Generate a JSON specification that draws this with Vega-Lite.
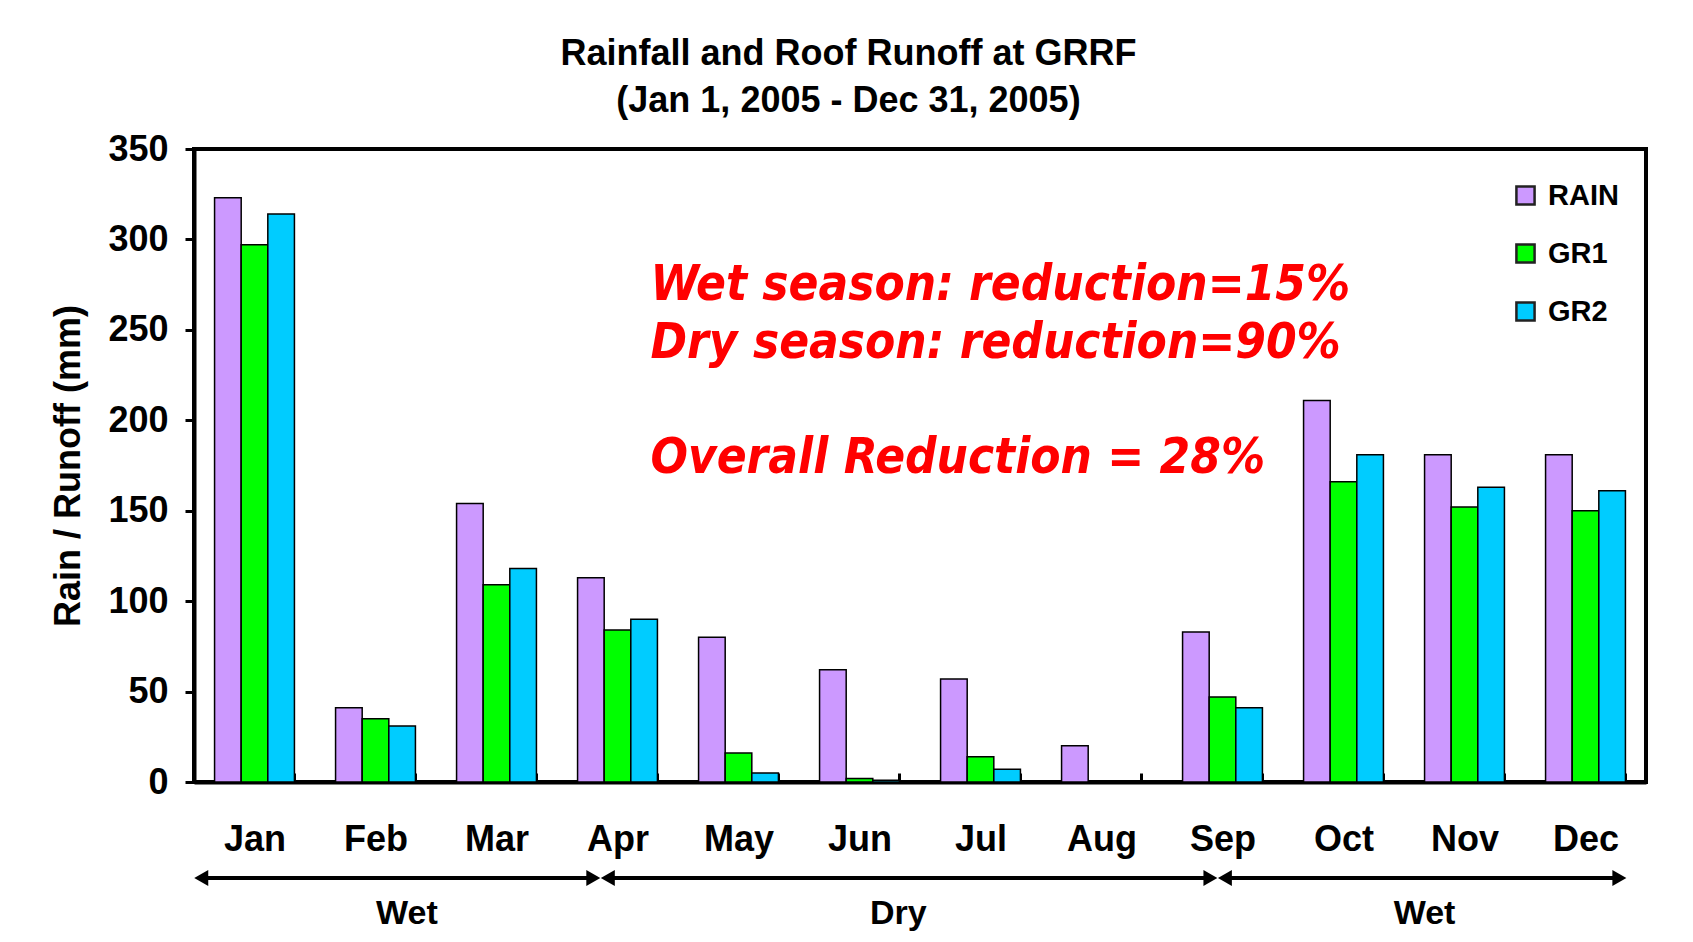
{
  "$schema": "https://vega.github.io/schema/vega-lite/v6.json",
  "background": "white",
  "padding": {"left": 48, "top": 36, "right": 5, "bottom": 0},
  "title": {
    "text": ["Rainfall and Roof Runoff at GRRF", "(Jan 1, 2005 - Dec 31, 2005)"],
    "anchor": "middle",
    "font": "Liberation Sans",
    "fontSize": 36,
    "fontWeight": "bold",
    "lineHeight": 47,
    "offset": 9,
    "color": "black"
  },
  "config": {"view": {"stroke": null}, "font": "Liberation Sans"},
  "bounds": "flush",
  "spacing": 78,
  "vconcat": [
    {
      "width": 1452,
      "height": 633,
      "view": {"stroke": "black", "strokeWidth": 4},
      "layer": [
        {
          "data": {
            "values": [
              {"month": "Jan", "series": "RAIN", "value": 323},
              {"month": "Jan", "series": "GR1", "value": 297},
              {"month": "Jan", "series": "GR2", "value": 314},
              {"month": "Feb", "series": "RAIN", "value": 41},
              {"month": "Feb", "series": "GR1", "value": 35},
              {"month": "Feb", "series": "GR2", "value": 31},
              {"month": "Mar", "series": "RAIN", "value": 154},
              {"month": "Mar", "series": "GR1", "value": 109},
              {"month": "Mar", "series": "GR2", "value": 118},
              {"month": "Apr", "series": "RAIN", "value": 113},
              {"month": "Apr", "series": "GR1", "value": 84},
              {"month": "Apr", "series": "GR2", "value": 90},
              {"month": "May", "series": "RAIN", "value": 80},
              {"month": "May", "series": "GR1", "value": 16},
              {"month": "May", "series": "GR2", "value": 5},
              {"month": "Jun", "series": "RAIN", "value": 62},
              {"month": "Jun", "series": "GR1", "value": 2},
              {"month": "Jun", "series": "GR2", "value": 1},
              {"month": "Jul", "series": "RAIN", "value": 57},
              {"month": "Jul", "series": "GR1", "value": 14},
              {"month": "Jul", "series": "GR2", "value": 7},
              {"month": "Aug", "series": "RAIN", "value": 20},
              {"month": "Aug", "series": "GR1", "value": 0},
              {"month": "Aug", "series": "GR2", "value": 0},
              {"month": "Sep", "series": "RAIN", "value": 83},
              {"month": "Sep", "series": "GR1", "value": 47},
              {"month": "Sep", "series": "GR2", "value": 41},
              {"month": "Oct", "series": "RAIN", "value": 211},
              {"month": "Oct", "series": "GR1", "value": 166},
              {"month": "Oct", "series": "GR2", "value": 181},
              {"month": "Nov", "series": "RAIN", "value": 181},
              {"month": "Nov", "series": "GR1", "value": 152},
              {"month": "Nov", "series": "GR2", "value": 163},
              {"month": "Dec", "series": "RAIN", "value": 181},
              {"month": "Dec", "series": "GR1", "value": 150},
              {"month": "Dec", "series": "GR2", "value": 161}
            ]
          },
          "mark": {"type": "bar", "stroke": "black", "strokeWidth": 1.5},
          "encoding": {
            "x": {
              "field": "month",
              "type": "nominal",
              "scale": {
                "domain": ["Jan", "Feb", "Mar", "Apr", "May", "Jun", "Jul", "Aug", "Sep", "Oct", "Nov", "Dec"],
                "paddingInner": 0.34,
                "paddingOuter": 0.17
              },
              "axis": {
                "title": null,
                "labelFont": "Liberation Sans",
                "labelFontSize": 36,
                "labelFontWeight": "bold",
                "labelColor": "black",
                "labelPadding": 49,
                "labelAngle": 0,
                "tickBand": "extent",
                "tickSize": -9,
                "tickWidth": 3,
                "tickColor": "black",
                "domainColor": "black",
                "domainWidth": 4
              }
            },
            "xOffset": {
              "field": "series",
              "type": "nominal",
              "scale": {"domain": ["RAIN", "GR1", "GR2"], "paddingInner": 0, "paddingOuter": 0}
            },
            "y": {
              "field": "value",
              "type": "quantitative",
              "scale": {"domain": [0, 350], "nice": false},
              "axis": {
                "title": "Rain / Runoff (mm)",
                "titleFont": "Liberation Sans",
                "titleFontSize": 36,
                "titleFontWeight": "bold",
                "titleColor": "black",
                "titlePadding": 20,
                "labelFont": "Liberation Sans",
                "labelFontSize": 36,
                "labelFontWeight": "bold",
                "labelColor": "black",
                "labelPadding": 17,
                "labelFlush": false,
                "values": [0, 50, 100, 150, 200, 250, 300, 350],
                "tickSize": 9,
                "tickWidth": 3,
                "tickColor": "black",
                "domainColor": "black",
                "domainWidth": 4,
                "grid": false
              }
            },
            "color": {
              "field": "series",
              "type": "nominal",
              "scale": {"domain": ["RAIN", "GR1", "GR2"], "range": ["#CC99FF", "#00FF00", "#00CCFF"]},
              "legend": {
                "orient": "none",
                "legendX": 1317,
                "legendY": 32,
                "title": null,
                "symbolType": "square",
                "symbolSize": 330,
                "symbolStrokeColor": "#222222",
                "symbolStrokeWidth": 2.5,
                "labelFont": "Liberation Sans",
                "labelFontSize": 29,
                "labelFontWeight": "bold",
                "labelColor": "black",
                "labelOffset": 8,
                "rowPadding": 28,
                "padding": 0
              }
            }
          }
        },
        {
          "data": {
            "values": [
              {"label": "Wet season: reduction=15%", "month": "Apr", "value": 275},
              {"label": "Dry season: reduction=90%", "month": "Apr", "value": 243},
              {"label": "Overall Reduction = 28%", "month": "Apr", "value": 179}
            ]
          },
          "mark": {
            "type": "text",
            "align": "left",
            "baseline": "middle",
            "dx": 33,
            "font": "DejaVu Sans Condensed",
            "fontSize": 49,
            "fontWeight": "bold",
            "fontStyle": "italic",
            "color": "#FF0000"
          },
          "encoding": {
            "x": {"field": "month", "type": "nominal"},
            "y": {"field": "value", "type": "quantitative"},
            "text": {"field": "label"}
          }
        }
      ]
    },
    {
      "width": 1452,
      "height": 72,
      "data": {
        "values": [
          {"season": "Wet", "from": 0.06, "to": 3.30, "mid": 1.76},
          {"season": "Dry", "from": 3.42, "to": 8.40, "mid": 5.82},
          {"season": "Wet", "from": 8.52, "to": 11.78, "mid": 10.17}
        ]
      },
      "layer": [
        {
          "mark": {"type": "rule", "strokeWidth": 4, "color": "black"},
          "encoding": {
            "x": {"field": "from", "type": "quantitative", "scale": {"domain": [0, 12], "nice": false, "zero": false}, "axis": null},
            "x2": {"field": "to"},
            "y": {"datum": "arrow", "type": "ordinal", "scale": {"type": "point", "domain": ["arrow", "label"], "padding": 0.5}, "axis": null}
          }
        },
        {
          "mark": {"type": "point", "shape": "triangle-left", "filled": true, "size": 260, "color": "black", "opacity": 1},
          "encoding": {
            "x": {"field": "from", "type": "quantitative"},
            "y": {"datum": "arrow", "type": "ordinal"}
          }
        },
        {
          "mark": {"type": "point", "shape": "triangle-right", "filled": true, "size": 260, "color": "black", "opacity": 1},
          "encoding": {
            "x": {"field": "to", "type": "quantitative"},
            "y": {"datum": "arrow", "type": "ordinal"}
          }
        },
        {
          "mark": {"type": "text", "font": "Liberation Sans", "fontSize": 34, "fontWeight": "bold", "color": "black", "baseline": "middle"},
          "encoding": {
            "x": {"field": "mid", "type": "quantitative"},
            "y": {"datum": "label", "type": "ordinal"},
            "text": {"field": "season"}
          }
        }
      ]
    }
  ]
}
